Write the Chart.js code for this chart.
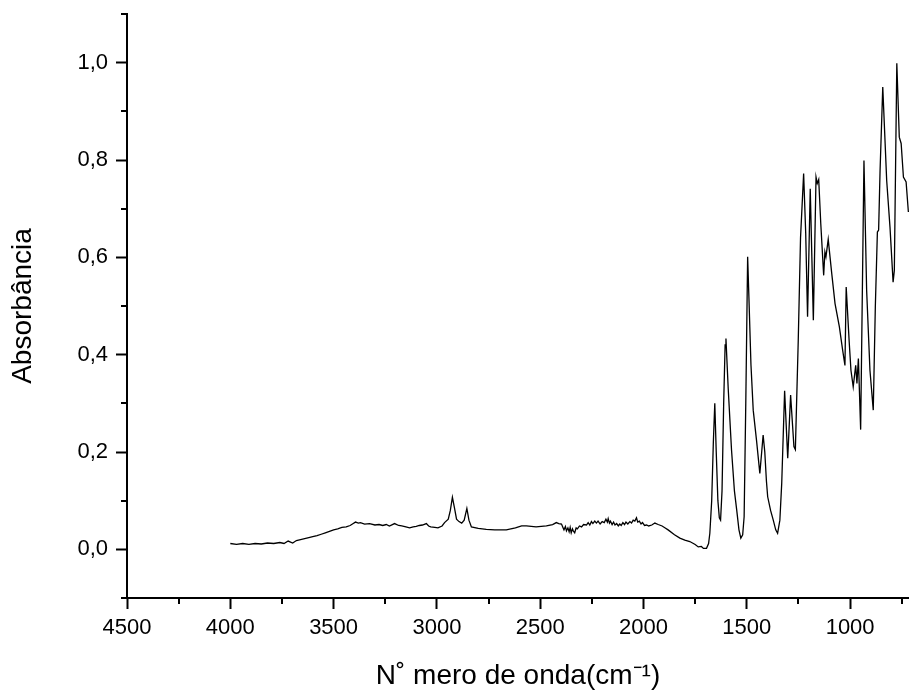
<!DOCTYPE html>
<html>
<head>
<meta charset="utf-8">
<script src="https://cdn.jsdelivr.net/npm/chart.js@4.4.1/dist/chart.umd.min.js"></script>
<style>
  html, body { margin: 0; padding: 0; background: #fff; }
  #wrap { width: 909px; height: 690px; }
</style>
</head>
<body>
<div id="wrap"><canvas id="c" width="909" height="690"></canvas></div>
<script>
// ---- Data ----
const wavenumbers = [
  4000, 3970, 3940, 3910, 3880, 3850, 3820, 3790, 3760, 3740, 3720, 3698, 3680, 3660, 3640, 3620, 3601, 3580,
  3560, 3540, 3520, 3500, 3480, 3460, 3439, 3420, 3405, 3394, 3380, 3370, 3350, 3326, 3300, 3280, 3262, 3245,
  3230, 3205, 3185, 3170, 3150, 3132, 3115, 3100, 3085, 3070, 3051, 3040, 3030, 3010,
  2995, 2975, 2963, 2945, 2935, 2925, 2915, 2905, 2893, 2880, 2868, 2855, 2845, 2833, 2800, 2761, 2720, 2664,
  2620, 2590, 2567, 2520, 2470,
  2440, 2422, 2410, 2397, 2390, 2385, 2378, 2373, 2366, 2360, 2355, 2350, 2344, 2340, 2333, 2326, 2320, 2310,
  2300, 2290, 2276, 2268, 2260, 2252, 2245, 2236, 2228, 2220, 2210, 2200, 2190, 2182, 2175, 2171, 2165, 2160,
  2152, 2145, 2138, 2130, 2122, 2115, 2108, 2100, 2092, 2085, 2076, 2066, 2058, 2050, 2042, 2034, 2028, 2020,
  2012, 2005, 1995, 1985, 1975, 1960, 1945, 1929,
  1910, 1895, 1881, 1850, 1824,
  1800, 1776, 1750, 1735, 1720, 1710, 1695, 1685, 1679, 1670, 1662, 1655, 1648, 1640, 1633, 1627,
  1620, 1612, 1605, 1601, 1590, 1574, 1560, 1549, 1538, 1529, 1520, 1513, 1505, 1496, 1490, 1480,
  1469, 1453, 1437, 1428, 1421, 1413, 1405, 1399, 1385, 1372, 1360, 1351, 1340, 1331, 1317, 1302,
  1288, 1272, 1265, 1251, 1240, 1225, 1215, 1206, 1193, 1178, 1165, 1159, 1152, 1142, 1128, 1122,
  1117, 1106, 1089, 1073, 1052, 1036, 1025, 1019, 1005, 996, 985, 973, 967, 960, 949, 933,
  920, 904, 888, 878, 868, 862, 855, 842, 823, 807, 792, 786, 774, 762, 753, 742,
  729, 718
];
const absorbance = [
  0.012, 0.010, 0.012, 0.010, 0.012, 0.011, 0.013, 0.012, 0.014, 0.012, 0.017, 0.013, 0.018, 0.020, 0.022, 0.024, 0.026, 0.028,
  0.031, 0.034, 0.037, 0.040, 0.042, 0.045, 0.046, 0.049, 0.053, 0.056, 0.054, 0.055, 0.052, 0.053, 0.050, 0.051, 0.049, 0.051,
  0.048, 0.053, 0.049, 0.048, 0.046, 0.044, 0.046, 0.047, 0.049, 0.050, 0.053, 0.048, 0.046, 0.045,
  0.044, 0.048, 0.055, 0.062, 0.080, 0.107, 0.085, 0.062, 0.057, 0.054, 0.060, 0.084, 0.060, 0.046, 0.043, 0.041, 0.040, 0.040,
  0.044, 0.048, 0.048, 0.046, 0.048,
  0.051, 0.055, 0.053, 0.052, 0.045, 0.040, 0.047, 0.038, 0.044, 0.036, 0.045, 0.034, 0.042, 0.038, 0.034, 0.044, 0.042, 0.048,
  0.046, 0.051, 0.050, 0.055, 0.050, 0.057, 0.053, 0.058, 0.054, 0.058, 0.052, 0.057, 0.055, 0.062, 0.056, 0.063, 0.054, 0.058,
  0.051, 0.056, 0.050, 0.053, 0.048, 0.052, 0.049, 0.055, 0.051, 0.056, 0.052, 0.057, 0.054, 0.060, 0.058, 0.065, 0.056, 0.058,
  0.052, 0.055, 0.049, 0.050, 0.048, 0.050, 0.054, 0.051,
  0.048, 0.044, 0.040, 0.030, 0.023,
  0.019, 0.016, 0.010, 0.005, 0.006, 0.002, 0.002, 0.012, 0.033, 0.100, 0.220, 0.300, 0.200, 0.100, 0.065, 0.060,
  0.120, 0.300, 0.420, 0.433, 0.330, 0.204, 0.120, 0.081, 0.040, 0.023, 0.030, 0.067, 0.300, 0.601, 0.520, 0.380,
  0.286, 0.224, 0.156, 0.200, 0.235, 0.200, 0.140, 0.108, 0.080, 0.060, 0.040, 0.033, 0.060, 0.136, 0.326, 0.187,
  0.317, 0.211, 0.205, 0.430, 0.640, 0.772, 0.650, 0.478, 0.741, 0.471, 0.765, 0.752, 0.760, 0.669, 0.563, 0.611,
  0.601, 0.637, 0.567, 0.505, 0.457, 0.409, 0.378, 0.539, 0.430, 0.368, 0.334, 0.378, 0.341, 0.392, 0.246, 0.799,
  0.532, 0.368, 0.286, 0.498, 0.652, 0.656, 0.779, 0.950, 0.758, 0.662, 0.549, 0.573, 0.999, 0.847, 0.834, 0.765,
  0.755, 0.693
];
const xMajorTicks = [4500, 4000, 3500, 3000, 2500, 2000, 1500, 1000];
const xMinorTicks = [4250, 3750, 3250, 2750, 2250, 1750, 1250, 750];
const yMajorTicks = [0.0, 0.2, 0.4, 0.6, 0.8, 1.0];
const yMinorTicks = [-0.1, 0.1, 0.3, 0.5, 0.7, 0.9, 1.1];
const xTitle = 'N\u02DA mero de onda(cm\u207B\u00B9)';
const yTitle = 'Absorbância';

const points = wavenumbers.map((w, i) => ({ x: w, y: absorbance[i] }));

const FONT = "'Liberation Sans', Arial, sans-serif";

const minorTicksPlugin = {
  id: 'minorTicks',
  afterDraw(chart) {
    const ctx = chart.ctx;
    const xs = chart.scales.x, ys = chart.scales.y;
    const area = chart.chartArea;
    ctx.save();
    ctx.strokeStyle = '#000';
    ctx.lineWidth = 2;
    ctx.beginPath();
    xMinorTicks.forEach(v => {
      const px = Math.round(xs.getPixelForValue(v));
      ctx.moveTo(px, area.bottom);
      ctx.lineTo(px, area.bottom + 6);
    });
    yMinorTicks.forEach(v => {
      const py = Math.round(ys.getPixelForValue(v));
      ctx.moveTo(area.left, py);
      ctx.lineTo(area.left - 6, py);
    });
    ctx.stroke();
    ctx.restore();
  }
};

new Chart(document.getElementById('c'), {
  type: 'line',
  data: {
    datasets: [{
      data: points,
      borderColor: '#000',
      borderWidth: 1.3,
      pointRadius: 0,
      tension: 0,
      fill: false
    }]
  },
  options: {
    responsive: false,
    devicePixelRatio: 1,
    animation: false,
    events: [],
    layout: { padding: { left: 0, right: 0, top: 14, bottom: 0 } },
    plugins: { legend: { display: false }, tooltip: { enabled: false } },
    scales: {
      x: {
        type: 'linear',
        reverse: true,
        min: 715,
        max: 4500,
        afterBuildTicks: s => { s.ticks = xMajorTicks.map(v => ({ value: v })); },
        afterFit: s => { s.height = 92; s.paddingLeft = 0; s.paddingRight = 0; },
        ticks: {
          autoSkip: false,
          maxRotation: 0,
          padding: 6,
          color: '#000',
          font: { family: FONT, size: 22 },
          callback: v => String(v)
        },
        grid: { drawOnChartArea: false, drawTicks: true, tickLength: 11, tickWidth: 2, tickColor: '#000' },
        border: { display: true, color: '#000', width: 2 },
        title: {
          display: true,
          text: xTitle,
          color: '#000',
          font: { family: FONT, size: 28, lineHeight: 1 },
          padding: { top: 0, bottom: 0 }
        }
      },
      y: {
        type: 'linear',
        min: -0.1,
        max: 1.1,
        afterBuildTicks: s => { s.ticks = yMajorTicks.map(v => ({ value: v })); },
        afterFit: s => { s.width = 127; s.paddingTop = 0; s.paddingBottom = 0; },
        ticks: {
          autoSkip: false,
          padding: 8,
          color: '#000',
          font: { family: FONT, size: 22 },
          callback: v => v.toFixed(1).replace('.', ',')
        },
        grid: { drawOnChartArea: false, drawTicks: true, tickLength: 11, tickWidth: 2, tickColor: '#000' },
        border: { display: true, color: '#000', width: 2 },
        title: {
          display: true,
          text: yTitle,
          color: '#000',
          font: { family: FONT, size: 28, lineHeight: 1 },
          padding: { top: 9, bottom: 0 }
        }
      }
    }
  },
  plugins: [minorTicksPlugin]
});
</script>
</body>
</html>
